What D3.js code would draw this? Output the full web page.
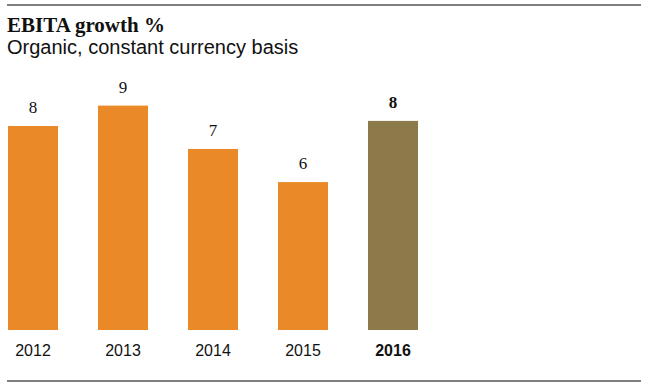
<!DOCTYPE html>
<html>
<head>
<meta charset="utf-8">
<title>EBITA growth %</title>
<style>
  body { margin: 0; background: #fff; }
  svg { display: block; }
  .title { font: bold 21px "Liberation Serif", serif; fill: #111; }
  .subtitle { font: 20px "Liberation Sans", Arial, sans-serif; fill: #111; }
  .val { font: 17px "Liberation Serif", serif; fill: #111; text-anchor: middle; }
  .year { font: 16px "Liberation Sans", Arial, sans-serif; fill: #111; text-anchor: middle; }
  .rule { stroke: #555; stroke-width: 1.5; }
</style>
</head>
<body>
<svg width="650" height="386"></svg>
<script src="https://d3js.org/d3.v7.min.js"></script>
<script>
  // data
  const years = ["2012", "2013", "2014", "2015", "2016"];
  const values = [8.0, 8.8, 7.1, 5.8, 8.2];
  const labels = ["8", "9", "7", "6", "8"];
  const highlight = "2016";

  const svg = d3.select("svg");

  const x = d3.scaleBand()
    .domain(years)
    .range([-12, 438])
    .paddingInner(40 / 90)
    .paddingOuter(20 / 90);

  const y = d3.scaleLinear()
    .domain([0, 10])
    .range([330, 75]);

  // top and bottom rules
  svg.append("line").attr("class", "rule")
    .attr("x1", 7).attr("x2", 641).attr("y1", 5).attr("y2", 5);
  svg.append("line").attr("class", "rule")
    .attr("x1", 7).attr("x2", 641).attr("y1", 381).attr("y2", 381);

  svg.append("text").attr("class", "title")
    .attr("x", 7).attr("y", 31.5)
    .text("EBITA growth %");
  svg.append("text").attr("class", "subtitle")
    .attr("x", 7).attr("y", 53.5)
    .text("Organic, constant currency basis");

  const bars = svg.append("g");
  bars.selectAll("rect")
    .data(years)
    .join("rect")
    .attr("x", d => x(d))
    .attr("width", x.bandwidth())
    .attr("y", (d, i) => y(values[i]))
    .attr("height", (d, i) => y(0) - y(values[i]))
    .attr("fill", d => d === highlight ? "#8d7a4a" : "#e98927");

  bars.selectAll("text.val")
    .data(years)
    .join("text")
    .attr("class", "val")
    .attr("x", d => x(d) + x.bandwidth() / 2)
    .attr("y", (d, i) => y(values[i]) - 13)
    .style("font-weight", d => d === highlight ? "bold" : null)
    .text((d, i) => labels[i]);

  // x axis labels, no axis line
  const xAxis = svg.append("g")
    .attr("transform", "translate(0,330)")
    .call(d3.axisBottom(x).tickSize(0).tickPadding(10));
  xAxis.select(".domain").remove();
  xAxis.selectAll("text")
    .attr("class", "year")
    .attr("dy", null)
    .attr("y", 26)
    .style("font-weight", d => d === highlight ? "bold" : null);
</script>
</body>
</html>
